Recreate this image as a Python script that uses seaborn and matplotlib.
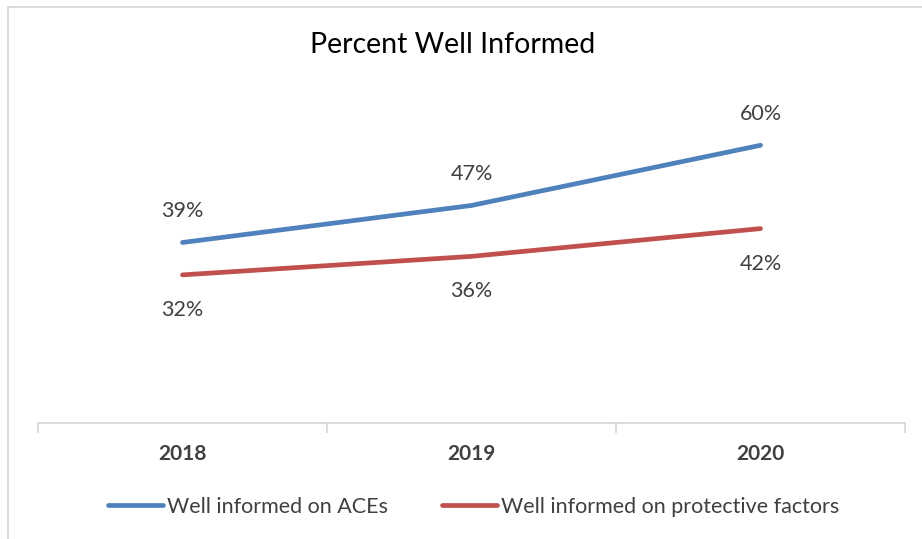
import matplotlib.pyplot as plt
import matplotlib.patches as mpatches
import seaborn as sns
import pandas as pd

years = ["2018", "2019", "2020"]
aces = [39, 47, 60]
protective = [32, 36, 42]
series_names = ["Well informed on ACEs", "Well informed on protective factors"]
colors = ["#4F81BD", "#C0504D"]

sns.set_style("white")
plt.rcParams['font.family'] = ['Lato', 'DejaVu Sans']
text_color = "#404040"

df = pd.DataFrame({
    "year": years * 2,
    "pct": aces + protective,
    "series": [series_names[0]] * 3 + [series_names[1]] * 3,
})

fig = plt.figure(figsize=(9.22, 5.39), dpi=100)
ax = fig.add_axes([38 / 922, 1 - 423 / 539, 867 / 922, 324 / 539])

sns.lineplot(data=df, x="year", y="pct", hue="series", palette=colors,
             linewidth=3.4, ax=ax, legend=False, sort=False)
for line in ax.lines:
    line.set_solid_capstyle("round")

# data labels: above for ACEs, below for protective
for i, v in enumerate(aces):
    ax.annotate(f"{v}%", (i, v), xytext=(0, 31), textcoords="offset pixels",
                ha="center", va="center", fontsize=15.5, color=text_color)
for i, v in enumerate(protective):
    ax.annotate(f"{v}%", (i, v), xytext=(0, -35), textcoords="offset pixels",
                ha="center", va="center", fontsize=15.5, color=text_color)

ax.set_xlim(-0.5, 2.5)
ax.set_ylim(0, 70)
ax.set_yticks([])
ax.set_xlabel("")
ax.set_ylabel("")
for s in ["top", "right", "left"]:
    ax.spines[s].set_visible(False)
ax.spines["bottom"].set_color("#D9D9D9")
ax.spines["bottom"].set_linewidth(1.3)

# tick marks at category boundaries, labels at centres
ax.set_xticks([-0.5, 0.5, 1.5, 2.5], minor=False)
ax.set_xticklabels([])
ax.tick_params(axis="x", which="major", length=7, width=1.3, color="#D9D9D9", bottom=True)
ax.set_xticks([0, 1, 2], minor=True)
ax.set_xticklabels(years, minor=True, fontsize=15, fontweight="bold", color=text_color)
ax.tick_params(axis="x", which="minor", length=0, pad=15)

fig.text(453 / 922, 1 - 45 / 539, "Percent Well Informed", ha="center", va="center",
         fontsize=20.5, color="black")

handles = [plt.Line2D([], [], color=c, lw=3.4, solid_capstyle="round") for c in colors]
fig.legend(handles, series_names, loc="center", bbox_to_anchor=(474 / 922, 1 - 507 / 539),
           ncol=2, frameon=False, fontsize=15.5, handlelength=2.55, handletextpad=0.2,
           columnspacing=2.5, labelcolor=text_color)

# light chart border
fig.patches.append(mpatches.Rectangle((8 / 922, -0.05), 1.05, 1 - 7 / 539 + 0.05,
                                      transform=fig.transFigure, fill=False,
                                      edgecolor="#D9D9D9", lw=1.3))

fig.savefig("out.png", dpi=100)
